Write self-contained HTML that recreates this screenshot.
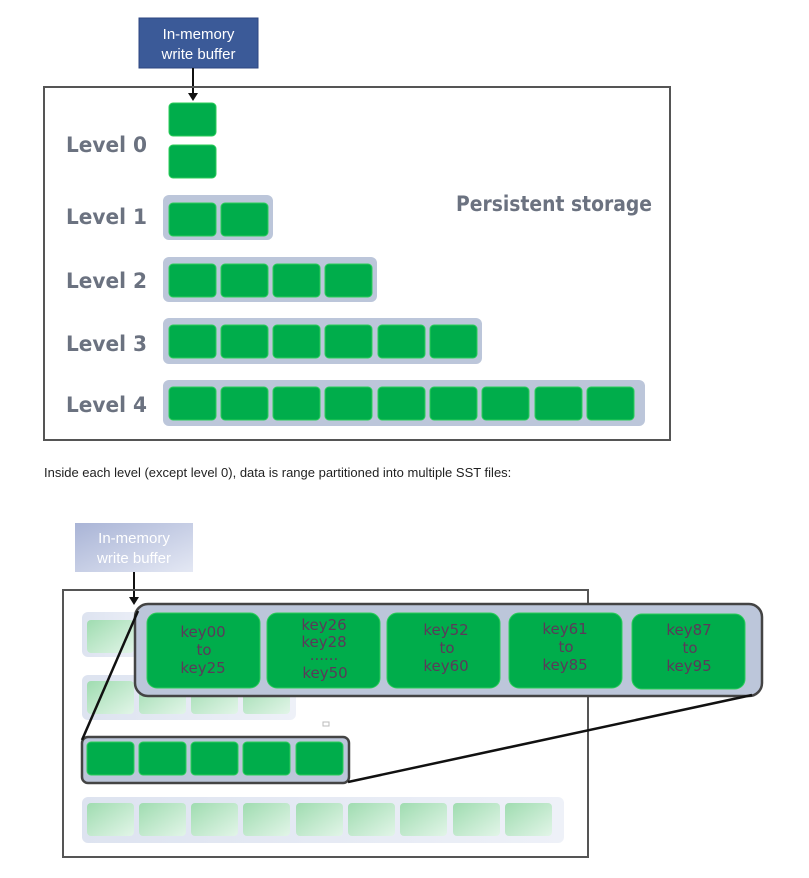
<!DOCTYPE html>
<html><head><meta charset="utf-8"><style>
html,body{margin:0;padding:0;background:#fff;width:809px;height:878px;overflow:hidden}
svg{display:block}
.lbl{font-family:"DejaVu Sans","Liberation Sans",sans-serif;font-weight:bold;fill:#6b7280;font-size:21px}
.k{font-family:"DejaVu Sans","Liberation Sans",sans-serif;fill:#5b3a5a;font-size:15px;text-anchor:middle}
</style></head><body>
<svg width="809" height="878" viewBox="0 0 809 878" xmlns="http://www.w3.org/2000/svg">
<defs>
<linearGradient id="fg" x1="0" y1="0" x2="1" y2="1"><stop offset="0" stop-color="#9fdcb0"/><stop offset="1" stop-color="#e2f5e8"/></linearGradient>
<linearGradient id="ft" x1="0" y1="0" x2="1" y2="0"><stop offset="0" stop-color="#dde3f0"/><stop offset="1" stop-color="#eef1f8"/></linearGradient>
<linearGradient id="bb" x1="0" y1="0" x2="1" y2="1"><stop offset="0" stop-color="#a9b4d6"/><stop offset="1" stop-color="#e4e8f4"/></linearGradient>
</defs>
<!-- TOP -->
<rect x="139" y="18" width="119" height="50" fill="#3b5a98" stroke="#2c4680"/>
<text x="198.5" y="39" text-anchor="middle" font-family="Liberation Sans,sans-serif" font-size="15" fill="#fff">In-memory</text>
<text x="198.5" y="59" text-anchor="middle" font-family="Liberation Sans,sans-serif" font-size="15" fill="#fff">write buffer</text>
<line x1="193" y1="68" x2="193" y2="94" stroke="#111" stroke-width="2"/>
<path d="M188,93 L198,93 L193,101 z" fill="#111"/>
<rect x="44" y="87" width="626" height="353" fill="none" stroke="#555" stroke-width="2"/>
<g fill="#00ad4b" stroke="#2ccd5a" stroke-width="1">
<rect x="169" y="103" width="47" height="33" rx="4"/>
<rect x="169" y="145" width="47" height="33" rx="4"/>
</g>
<rect x="163" y="195" width="110" height="45" rx="6" fill="#bcc6da"/>
<rect x="163" y="257" width="214" height="45" rx="6" fill="#bcc6da"/>
<rect x="163" y="318" width="319" height="46" rx="6" fill="#bcc6da"/>
<rect x="163" y="380" width="482" height="46" rx="6" fill="#bcc6da"/>
<g fill="#00ad4b" stroke="#2ccd5a" stroke-width="1">
<rect x="169" y="203" width="47" height="33" rx="4"/><rect x="221" y="203" width="47" height="33" rx="4"/>
<rect x="169" y="264" width="47" height="33" rx="4"/><rect x="221" y="264" width="47" height="33" rx="4"/><rect x="273" y="264" width="47" height="33" rx="4"/><rect x="325" y="264" width="47" height="33" rx="4"/>
<rect x="169" y="325" width="47" height="33" rx="4"/><rect x="221" y="325" width="47" height="33" rx="4"/><rect x="273" y="325" width="47" height="33" rx="4"/><rect x="325" y="325" width="47" height="33" rx="4"/><rect x="378" y="325" width="47" height="33" rx="4"/><rect x="430" y="325" width="47" height="33" rx="4"/>
<rect x="169" y="387" width="47" height="33" rx="4"/><rect x="221" y="387" width="47" height="33" rx="4"/><rect x="273" y="387" width="47" height="33" rx="4"/><rect x="325" y="387" width="47" height="33" rx="4"/><rect x="378" y="387" width="47" height="33" rx="4"/><rect x="430" y="387" width="47" height="33" rx="4"/><rect x="482" y="387" width="47" height="33" rx="4"/><rect x="535" y="387" width="47" height="33" rx="4"/><rect x="587" y="387" width="47" height="33" rx="4"/>
</g>
<text class="lbl" x="66" y="152" textLength="81" lengthAdjust="spacingAndGlyphs">Level 0</text>
<text class="lbl" x="66" y="224" textLength="81" lengthAdjust="spacingAndGlyphs">Level 1</text>
<text class="lbl" x="66" y="288" textLength="81" lengthAdjust="spacingAndGlyphs">Level 2</text>
<text class="lbl" x="66" y="351" textLength="81" lengthAdjust="spacingAndGlyphs">Level 3</text>
<text class="lbl" x="66" y="412" textLength="81" lengthAdjust="spacingAndGlyphs">Level 4</text>
<text class="lbl" x="456" y="211" textLength="196" lengthAdjust="spacingAndGlyphs">Persistent storage</text>
<text x="44" y="477" font-family="Liberation Sans,sans-serif" font-size="13" fill="#222">Inside each level (except level 0), data is range partitioned into multiple SST files:</text>
<!-- BOTTOM -->
<rect x="75" y="523" width="118" height="49" fill="url(#bb)"/>
<text x="134" y="543" text-anchor="middle" font-family="Liberation Sans,sans-serif" font-size="15" fill="#fff">In-memory</text>
<text x="134" y="563" text-anchor="middle" font-family="Liberation Sans,sans-serif" font-size="15" fill="#fff">write buffer</text>
<line x1="134" y1="572" x2="134" y2="598" stroke="#111" stroke-width="2"/>
<path d="M129,597 L139,597 L134,605 z" fill="#111"/>
<rect x="63" y="590" width="525" height="267" fill="none" stroke="#555" stroke-width="2"/>
<rect x="82" y="612" width="70" height="45" rx="6" fill="url(#ft)"/>
<rect x="87" y="620" width="47" height="33" rx="4" fill="url(#fg)"/>
<rect x="82" y="675" width="214" height="45" rx="6" fill="url(#ft)"/>
<g fill="url(#fg)">
<rect x="87" y="681" width="47" height="33" rx="4"/><rect x="139" y="681" width="47" height="33" rx="4"/><rect x="191" y="681" width="47" height="33" rx="4"/><rect x="243" y="681" width="47" height="33" rx="4"/>
</g>
<rect x="82" y="797" width="482" height="46" rx="6" fill="url(#ft)"/>
<g fill="url(#fg)">
<rect x="87" y="803" width="47" height="33" rx="4"/><rect x="139" y="803" width="47" height="33" rx="4"/><rect x="191" y="803" width="47" height="33" rx="4"/><rect x="243" y="803" width="47" height="33" rx="4"/><rect x="296" y="803" width="47" height="33" rx="4"/><rect x="348" y="803" width="47" height="33" rx="4"/><rect x="400" y="803" width="47" height="33" rx="4"/><rect x="453" y="803" width="47" height="33" rx="4"/><rect x="505" y="803" width="47" height="33" rx="4"/>
</g>
<rect x="323" y="722" width="6" height="4" fill="none" stroke="#bbb" stroke-width="1"/>
<rect x="82" y="737" width="267" height="46" rx="6" fill="#bcc6da" stroke="#444" stroke-width="2.5"/>
<g fill="#00ad4b" stroke="#2ccd5a" stroke-width="1">
<rect x="87" y="742" width="47" height="33" rx="4"/><rect x="139" y="742" width="47" height="33" rx="4"/><rect x="191" y="742" width="47" height="33" rx="4"/><rect x="243" y="742" width="47" height="33" rx="4"/><rect x="296" y="742" width="47" height="33" rx="4"/>
</g>
<rect x="135" y="604" width="627" height="92" rx="13" fill="#bcc6da" stroke="#444" stroke-width="2.5"/>
<line x1="82" y1="740" x2="138" y2="611" stroke="#111" stroke-width="2.5"/>
<line x1="348" y1="782" x2="752" y2="695" stroke="#111" stroke-width="2.5"/>
<g fill="#00ad4b" stroke="#2ccd5a" stroke-width="1">
<rect x="147" y="613" width="113" height="75" rx="10"/>
<rect x="267" y="613" width="113" height="75" rx="10"/>
<rect x="387" y="613" width="113" height="75" rx="10"/>
<rect x="509" y="613" width="113" height="75" rx="10"/>
<rect x="632" y="614" width="113" height="75" rx="10"/>
</g>
<text class="k" x="203" y="637">key00</text><text class="k" x="204" y="655">to</text><text class="k" x="203" y="673">key25</text>
<text class="k" x="324" y="630">key26</text><text class="k" x="324" y="647">key28</text><text class="k" x="324" y="660" font-size="10">......</text><text class="k" x="325" y="678">key50</text>
<text class="k" x="446" y="635">key52</text><text class="k" x="447" y="653">to</text><text class="k" x="446" y="671">key60</text>
<text class="k" x="565" y="634">key61</text><text class="k" x="566" y="652">to</text><text class="k" x="565" y="670">key85</text>
<text class="k" x="689" y="635">key87</text><text class="k" x="690" y="653">to</text><text class="k" x="689" y="671">key95</text>
</svg>
</body></html>
